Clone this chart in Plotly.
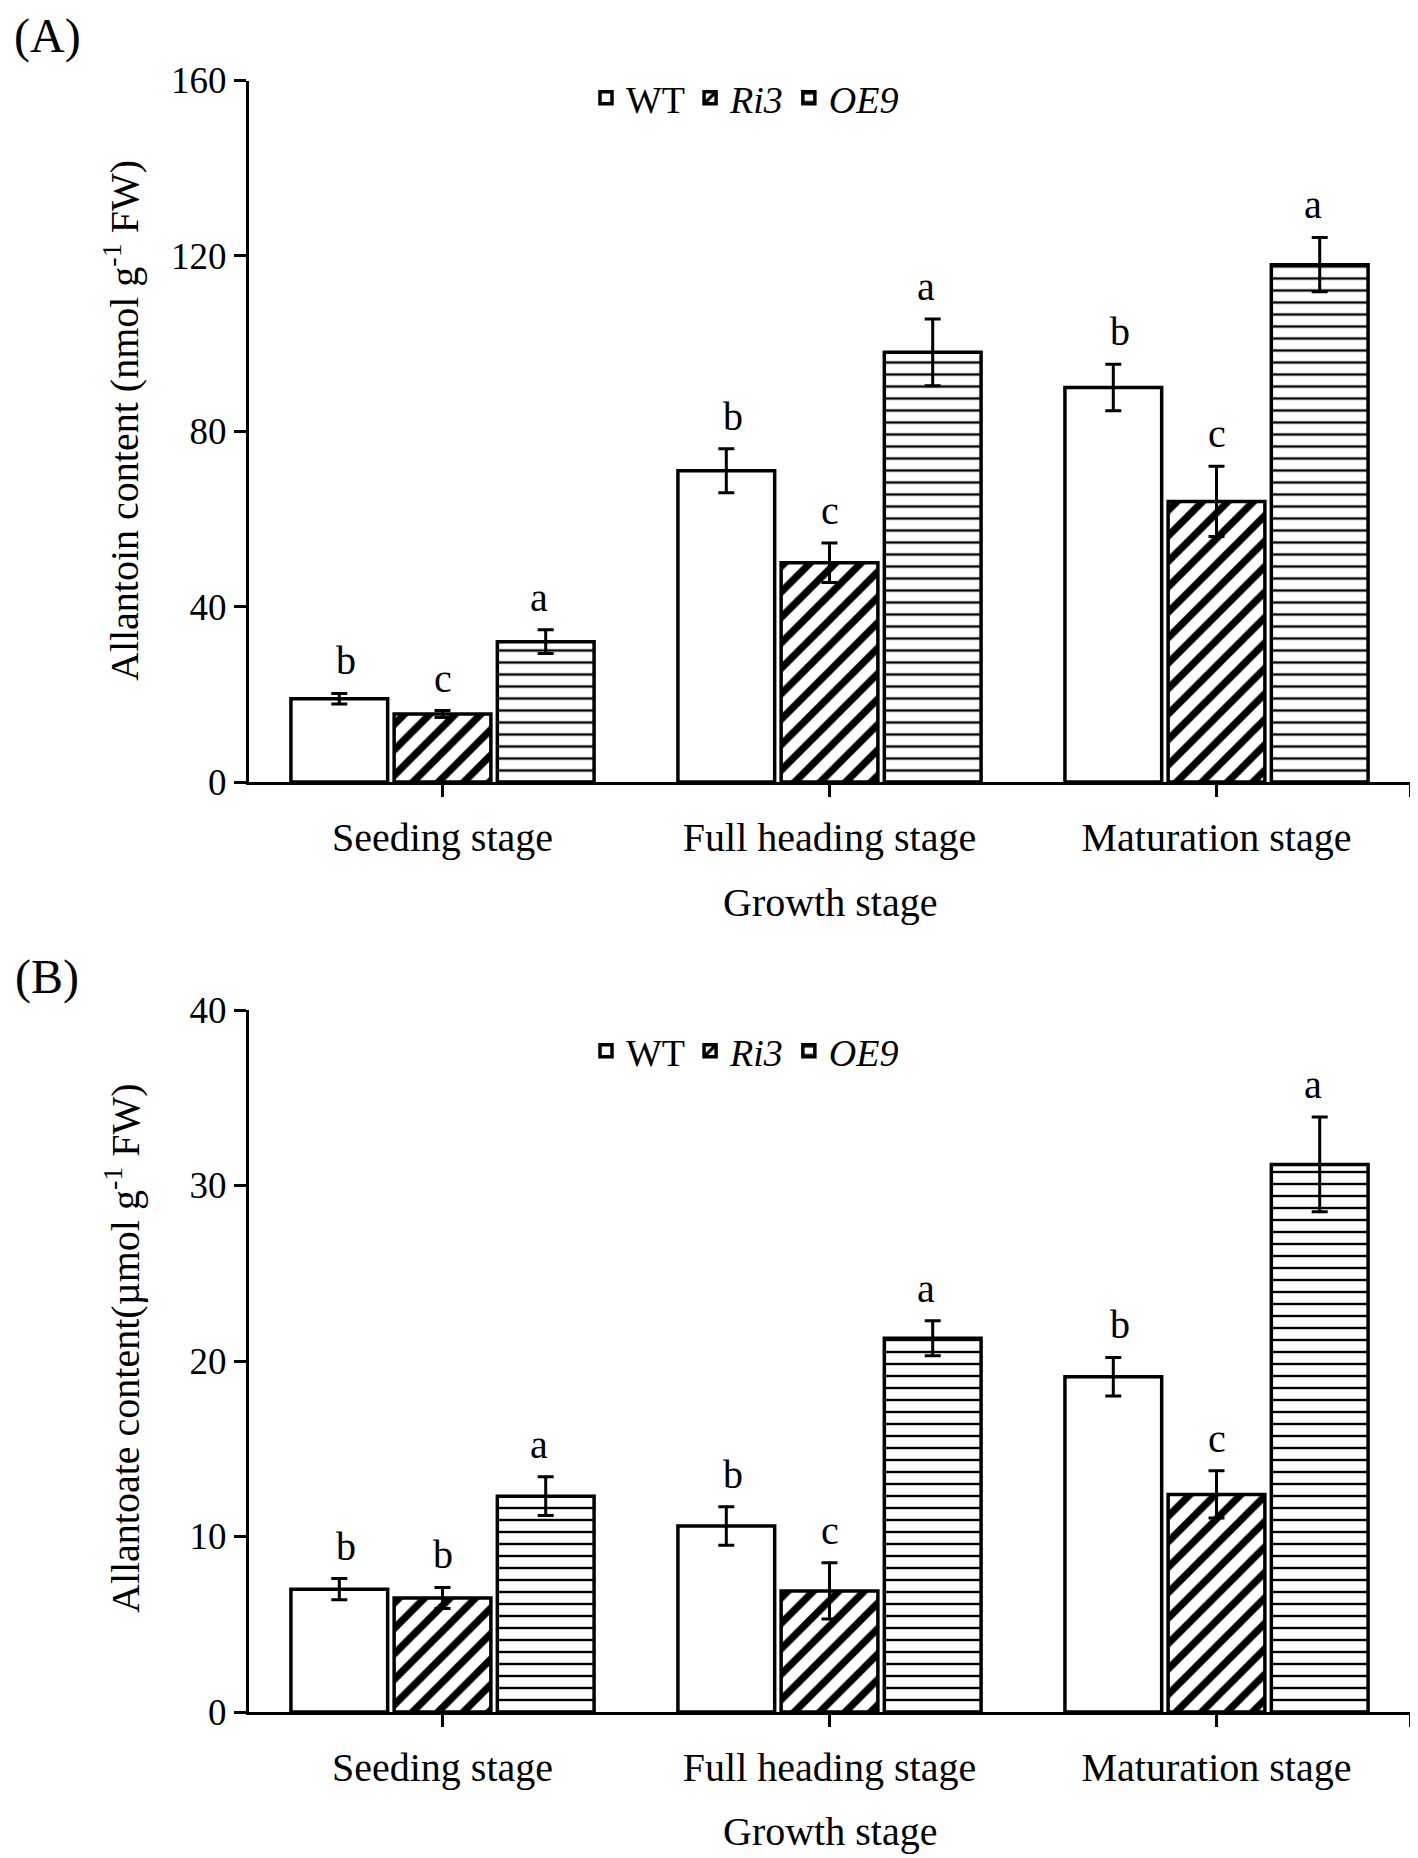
import plotly.graph_objects as go

stages = ["Seeding stage", "Full heading stage", "Maturation stage"]
series = ["WT", "Ri3", "OE9"]
series_labels = ["WT", "<i>Ri3</i>", "<i>OE9</i>"]

# Panel A: Allantoin content (nmol g-1 FW)
allantoin_wt = [19.0, 71.0, 90.0]
allantoin_ri3 = [15.5, 50.0, 64.0]
allantoin_oe9 = [32.0, 98.0, 118.0]
allantoin_wt_err = [1.2, 5.0, 5.3]
allantoin_ri3_err = [0.8, 4.5, 8.0]
allantoin_oe9_err = [2.7, 7.6, 6.2]
allantoin_letters_wt = ["b", "b", "b"]
allantoin_letters_ri3 = ["c", "c", "c"]
allantoin_letters_oe9 = ["a", "a", "a"]

# Panel B: Allantoate content (umol g-1 FW)
allantoate_wt = [7.0, 10.6, 19.1]
allantoate_ri3 = [6.5, 6.9, 12.4]
allantoate_oe9 = [12.3, 21.3, 31.2]
allantoate_wt_err = [0.6, 1.1, 1.1]
allantoate_ri3_err = [0.6, 1.6, 1.35]
allantoate_oe9_err = [1.1, 1.0, 2.7]
allantoate_letters_wt = ["b", "b", "b"]
allantoate_letters_ri3 = ["b", "c", "c"]
allantoate_letters_oe9 = ["a", "a", "a"]

yticks_A = [0, 40, 80, 120, 160]
yticks_B = [0, 10, 20, 30, 40]

FONT = "Liberation Serif, Times New Roman, serif"
OFF = 8  # default page body margin
W, H = 1418 - OFF, 1858 - OFF


def px(X):
    return (X - OFF) / W


def py(Y):
    return 1 - (Y - OFF) / H


patterns = [
    dict(shape=""),
    dict(shape="/", fgcolor="black", bgcolor="white", fgopacity=1, size=18, solidity=0.4,
         fillmode="overlay"),
    dict(shape="-", fgcolor="black", bgcolor="white", fgopacity=1, size=12, solidity=0.2,
         fillmode="overlay"),
]

fig = go.Figure()
xpos = list(range(len(stages)))
offsets = [-0.25, 0.0, 0.25]

panels = [
    dict(x="x", y="y", legend="legend",
         vals=[allantoin_wt, allantoin_ri3, allantoin_oe9],
         errs=[allantoin_wt_err, allantoin_ri3_err, allantoin_oe9_err],
         letters=[allantoin_letters_wt, allantoin_letters_ri3, allantoin_letters_oe9]),
    dict(x="x2", y="y2", legend="legend2",
         vals=[allantoate_wt, allantoate_ri3, allantoate_oe9],
         errs=[allantoate_wt_err, allantoate_ri3_err, allantoate_oe9_err],
         letters=[allantoate_letters_wt, allantoate_letters_ri3, allantoate_letters_oe9]),
]

annotations = []
for p in panels:
    for j in range(3):
        fig.add_trace(go.Bar(
            x=xpos, y=p["vals"][j], name=series_labels[j],
            xaxis=p["x"], yaxis=p["y"], legend=p["legend"],
            marker=dict(color="white", line=dict(color="black", width=3.5), pattern=patterns[j]),
            error_y=dict(type="data", array=p["errs"][j], color="black", thickness=3, width=8),
            width=0.25,
        ))
        for i in range(3):
            annotations.append(dict(
                x=xpos[i] + offsets[j], y=p["vals"][j][i] + p["errs"][j][i],
                xref=p["x"], yref=p["y"], text=p["letters"][j][i], showarrow=False,
                xanchor="center", yanchor="bottom", yshift=8,
                font=dict(family=FONT, size=40, color="black")))

xdom = [px(249), px(1410)]
domA = [py(782), py(80.5)]
domB = [py(1712), py(1010)]

axis_common = dict(showline=True, linecolor="black", linewidth=3, ticks="outside",
                   tickcolor="black", showgrid=False, zeroline=False, automargin=False,
                   tickfont=dict(family=FONT, size=37, color="black"))

xcommon = dict(axis_common, range=[-0.5, 2.5], tickvals=xpos + [2.5],
               ticktext=stages + [""], ticklen=12, tickwidth=2.5,
               tickfont=dict(family=FONT, size=40, color="black"), ticklabelstandoff=6)

fig.update_layout(
    template="none",
    width=W, height=H, plot_bgcolor="white", paper_bgcolor="white",
    margin=dict(l=0, r=0, t=0, b=0, pad=0),
    barmode="group", showlegend=True,
    xaxis=dict(xcommon, domain=xdom, anchor="y"),
    yaxis=dict(axis_common, domain=domA, anchor="x", range=[0, 160], tickvals=yticks_A,
               ticklen=12, tickwidth=3),
    xaxis2=dict(xcommon, domain=xdom, anchor="y2"),
    yaxis2=dict(axis_common, domain=domB, anchor="x2", range=[0, 40], tickvals=yticks_B,
                ticklen=12, tickwidth=3),
    legend=dict(orientation="h", x=px(745), xanchor="center", y=py(98), yanchor="middle",
                font=dict(family=FONT, size=38, color="black"), bgcolor="rgba(0,0,0,0)"),
    legend2=dict(orientation="h", x=px(745), xanchor="center", y=py(1051), yanchor="middle",
                 font=dict(family=FONT, size=38, color="black"), bgcolor="rgba(0,0,0,0)"),
)

xmid = (249 + 1410) / 2
title_font = dict(family=FONT, size=40, color="black")
annotations += [
    dict(x=px(47), y=py(36), text="(A)", font=dict(family=FONT, size=48, color="black")),
    dict(x=px(47), y=py(977), text="(B)", font=dict(family=FONT, size=48, color="black")),
    dict(x=px(122), y=py(421), text="Allantoin content (nmol g<sup>-1</sup> FW)",
         textangle=-90, font=title_font),
    dict(x=px(122), y=py(1348), text="Allantoate content(µmol g<sup>-1</sup> FW)",
         textangle=-90, font=title_font),
    dict(x=px(xmid), y=py(903), text="Growth stage", font=title_font),
    dict(x=px(xmid), y=py(1831), text="Growth stage", font=title_font),
]
for a in annotations[-6:]:
    a.update(xref="paper", yref="paper", showarrow=False, xanchor="center", yanchor="middle")
fig.update_layout(annotations=annotations)

fig.write_html("out.html")
